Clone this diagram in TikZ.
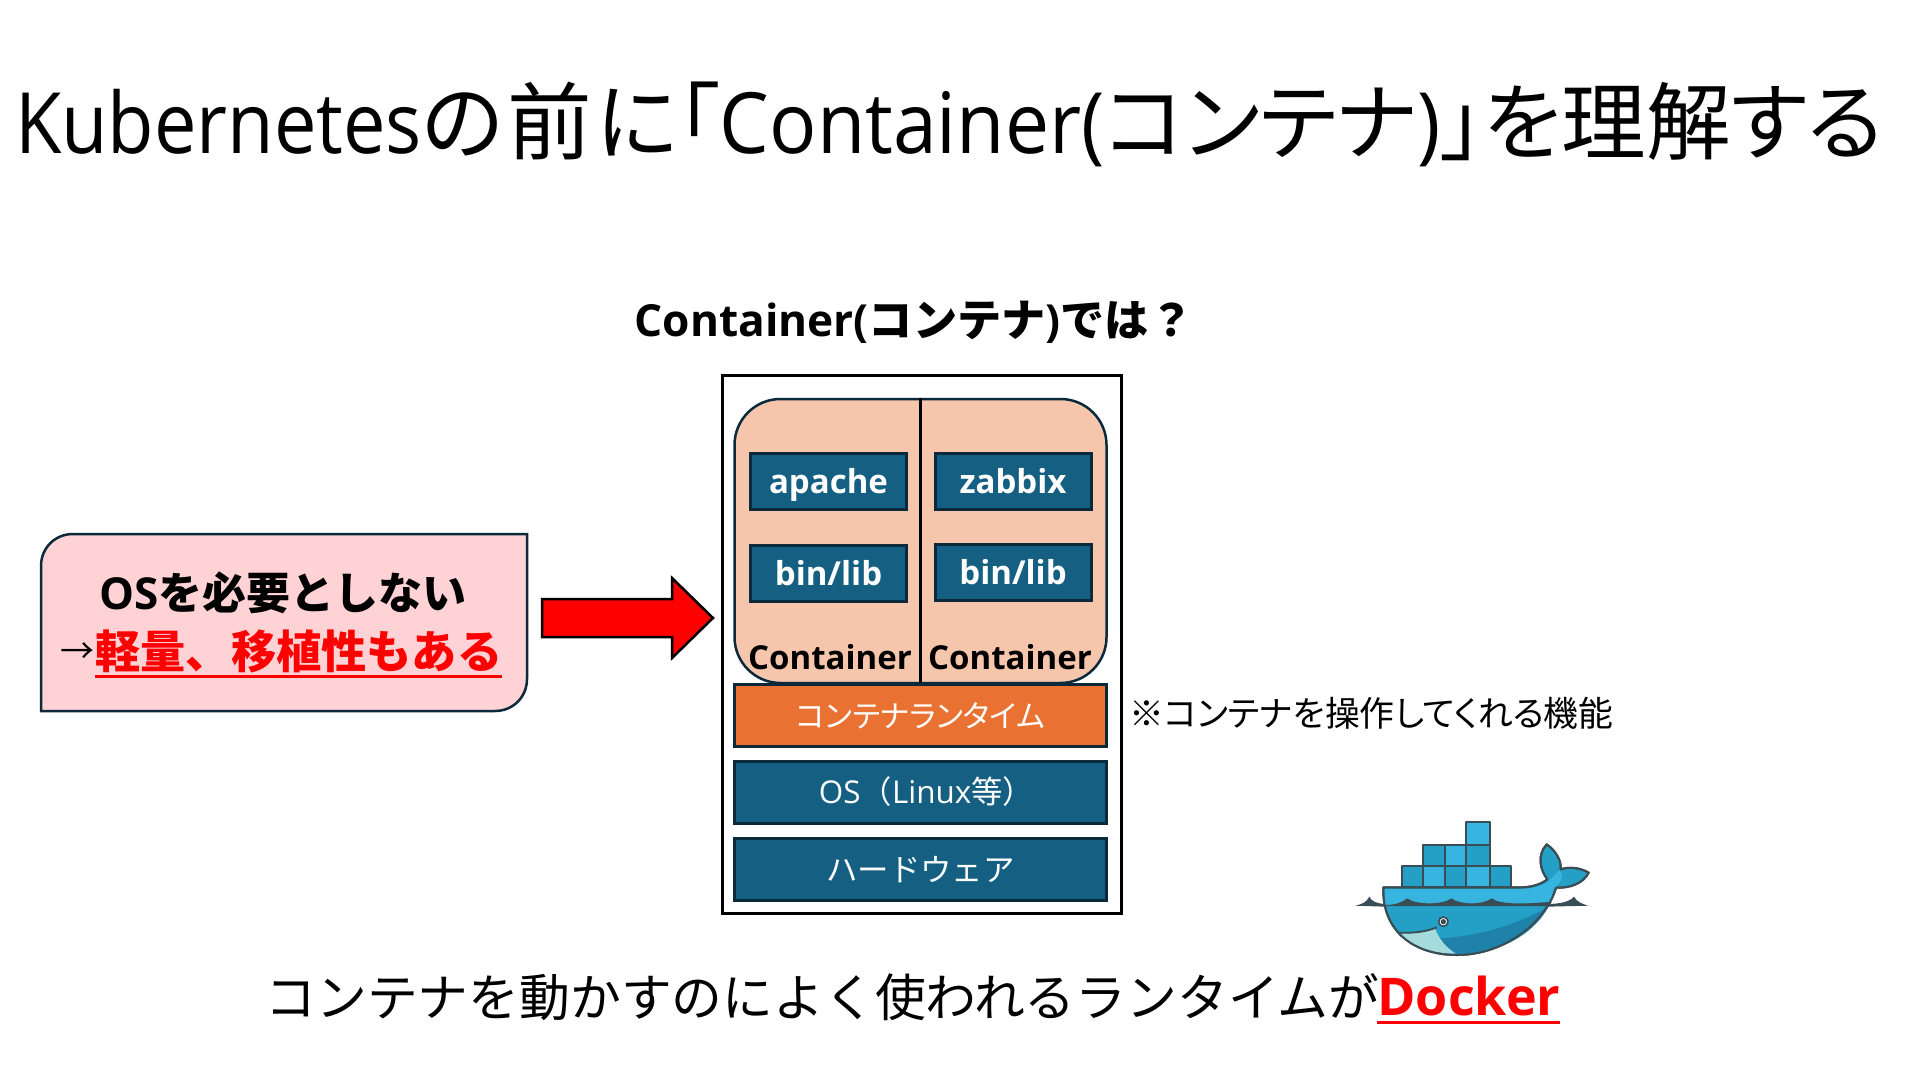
\documentclass[tikz,border=0pt]{standalone}
\usepackage{fontspec}
\setmainfont{Noto Sans CJK JP}[RawFeature=+palt]
\newfontfamily\jfull{Noto Sans CJK JP}
\newfontfamily\lat{Open Sans}[FakeStretch=0.93]
\newfontfamily\latn{Open Sans}[FakeStretch=0.895]
\newfontfamily\latb{Open Sans}
\newsavebox{\ulbox}
\newcommand{\ulx}[3]{\sbox{\ulbox}{#1}\rlap{\rule[-#2]{\wd\ulbox}{#3}}\usebox{\ulbox}}
\definecolor{dkblue}{HTML}{156082}
\definecolor{edge}{HTML}{0A2A3C}
\definecolor{orng}{HTML}{E97132}
\definecolor{peach}{HTML}{F5C6AC}
\definecolor{pinkbg}{HTML}{FFD2D6}
\definecolor{wline}{HTML}{3A4D54}
\definecolor{wlight}{HTML}{38B4E0}
\definecolor{wmid}{HTML}{24A0C6}
\definecolor{wdark}{HTML}{1F82AA}
\tikzset{
  txt/.style={inner sep=0pt,align=center},
  layer/.style={draw=edge,line width=1.5pt,inner sep=0pt,text=white,font=\fontsize{15.3}{18}\selectfont},
  appbox/.style={layer,fill=dkblue,minimum width=78pt,minimum height=28pt,text height=12.2pt,text depth=0pt,font=\fontsize{16.5}{18}\selectfont\bfseries\latb},
  fullbar/.style={layer,minimum width=186pt,minimum height=31pt},
  cont/.style={txt,font=\fontsize{16.5}{18}\selectfont\bfseries\latb},
  wedge/.style={draw=wline,line width=1pt,line join=round},
}
\begin{document}
\begin{tikzpicture}[x=0.5pt,y=-0.5pt]
\useasboundingbox (0,0) rectangle (1920,1080);
\fill[white] (0,0) rectangle (1920,1080);
% title
\node[txt,font=\fontsize{42.3}{48}\selectfont] (title) at (949,124) {{\latn Kubernetes}の\hspace{2pt}前\hspace{2pt}に「{\lat Container(}コンテナ{\lat )}」を理解する};
\node[txt,font=\fontsize{22.1}{26}\selectfont\bfseries\jfull] (sub) at (914,322) {{\latb Container(}コンテナ{\latb )}では？};
% outer frame
\node[draw=black,line width=1.5pt,minimum width=199.5pt,minimum height=269pt,inner sep=0pt] (frame) at (922,644) {};
% container pod
\node[draw=edge,line width=1.25pt,fill=peach,rounded corners=23pt,minimum width=186pt,minimum height=142pt,inner sep=0pt] (pod) at (920.5,541) {};
\draw[black,line width=1.25pt] (pod.north) -- (pod.south);
\node[appbox] (apache) at (828.5,481.5) {apache};
\node[appbox] (binl) at (828.5,573) {bin/lib};
\node[appbox] (zabbix) at (1013,481.5) {zabbix};
\node[appbox] (binr) at (1013,572) {bin/lib};
\node[cont] (cl) at (830,657) {Container};
\node[cont] (cr) at (1010,657) {Container};
% layers
\node[fullbar,fill=orng] (rt) at (920.5,715.5) {コンテナランタイム};
\node[fullbar,fill=dkblue,font=\fontsize{15.7}{18}\selectfont\jfull] (os) at (920.5,792) {\hspace{6pt}{\latb OS}（{\latb Linux}等）};
\node[fullbar,fill=dkblue,font=\fontsize{15.7}{18}\selectfont\jfull] (hw) at (920.5,869.5) {ハードウェア};
\node[txt,anchor=west,font=\fontsize{17.4}{20}\selectfont] (note) at (1129,713) {※コンテナを操作してくれる機能};
% left box
\draw[edge,line width=1.25pt,fill=pinkbg] (41,711) -- (41,566) .. controls (41,548) and (55,534) .. (73,534) -- (527,534) -- (527,679) .. controls (527,697) and (513,711) .. (495,711) -- cycle;
\node[txt,font=\fontsize{22}{26}\selectfont\bfseries\jfull] (l1) at (283,593) {{\latb OS}を必要としない};
\node[txt,anchor=east,font=\fontsize{17}{20}\selectfont] (l2a) at (95,653) {→};
\node[txt,anchor=west,text=red,font=\fontsize{22.6}{28}\selectfont\bfseries\jfull] (l2) at (95,654) {\ulx{軽量、移植性もある}{5pt}{1.6pt}};
% big arrow
\draw[black,line width=1.25pt,fill=red,line join=miter] (542,599) -- (672,599) -- (672,578) -- (713,618) -- (672,658) -- (672,637) -- (542,637) -- cycle;
% bottom
\node[txt,anchor=west,font=\fontsize{25.4}{30}\selectfont\jfull] (bot) at (265,997) {コンテナを動かすのによく使われるランタイムが};
\node[txt,anchor=west,text=red,font=\fontsize{26}{30}\selectfont\bfseries\latb] (dock) at (1377,1000) {\ulx{Docker}{4pt}{1.4pt}};
% whale
\begin{scope}[shift={(1320,790)},x=0.16667pt,y=-0.16667pt]
  % water
  \fill[wline] (105,347) .. controls (130,342) and (140,335) .. (148,320) .. controls (155,335) and (170,340) .. (195,342) -- (195,350) -- cycle;
  \fill[wline] (680,342) .. controls (720,342) and (750,335) .. (762,320) .. controls (770,335) and (785,342) .. (806,347) -- (680,350) -- cycle;
  % containers
  \foreach \xa/\ya/\xb/\yb/\c in {437/97/510/164/wlight,310/164/375/228/wmid,375/164/437/228/wlight,437/164/510/228/wmid,247/228/310/292/wmid,310/228/375/292/wlight,375/228/437/292/wmid,437/228/510/292/wlight,510/228/573/292/wmid}
    \filldraw[wedge,fill=\c] (\xa,\ya) rectangle (\xb,\yb);
  % hull
  \filldraw[wedge,fill=wmid] (190,292) -- (600,292) .. controls (630,292) and (660,285) .. (682,268) .. controls (660,240) and (650,195) .. (680,163) .. controls (705,180) and (725,210) .. (722,238) .. controls (750,228) and (785,235) .. (806,248) .. controls (790,280) and (750,295) .. (708,293) .. controls (680,390) and (560,495) .. (410,495) .. controls (290,495) and (185,430) .. (190,292) -- cycle;
  % upper deck
  \fill[wlight] (194,297) -- (600,297) .. controls (635,297) and (665,290) .. (690,270) -- (718,240) .. controls (740,262) and (715,280) .. (700,300) -- (690,345) -- (194,345) -- cycle;
  % belly dark
  \fill[wdark] (685,350) .. controls (600,400) and (480,440) .. (352,445) .. controls (370,470) and (390,480) .. (408,491) .. controls (550,495) and (650,420) .. (685,350) -- cycle;
  % pale jaw
  \fill[wline!25!white!80!cyan] (238,430) .. controls (280,432) and (320,425) .. (345,415) .. controls (355,445) and (380,475) .. (408,491) .. controls (330,490) and (275,470) .. (238,430) -- cycle;
  \draw[wline,line width=0.9pt] (238,428) .. controls (280,430) and (320,425) .. (350,412);
  % wave band
  \fill[wline] (194,345) .. controls (225,345) and (245,338) .. (262,325) .. controls (285,345) and (370,345) .. (394,325) .. controls (420,345) and (490,345) .. (515,325) .. controls (540,345) and (620,342) .. (695,335) -- (688,348) -- (194,348) -- cycle;
  % outline again
  \draw[wedge] (190,292) -- (600,292) .. controls (630,292) and (660,285) .. (682,268) .. controls (660,240) and (650,195) .. (680,163) .. controls (705,180) and (725,210) .. (722,238) .. controls (750,228) and (785,235) .. (806,248) .. controls (790,280) and (750,295) .. (708,293) .. controls (680,390) and (560,495) .. (410,495) .. controls (290,495) and (185,430) .. (190,292) -- cycle;
  % eye
  \filldraw[draw=wline,fill=white,line width=0.8pt] (370,395) circle[radius=14];
  \fill[wline] (370,395) circle[radius=8];
\end{scope}
\end{tikzpicture}
\end{document}
